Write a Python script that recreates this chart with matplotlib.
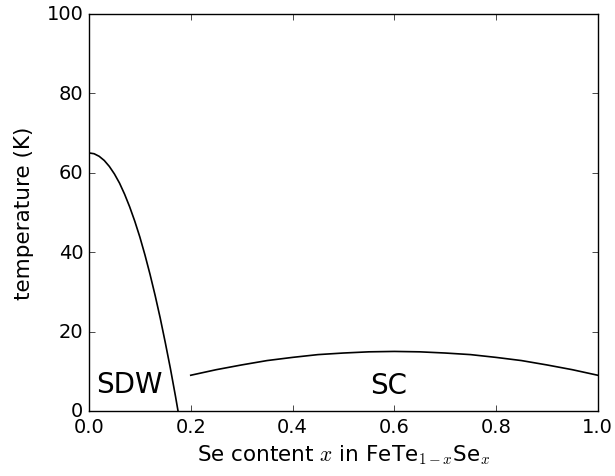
import matplotlib
matplotlib.use("Agg")
import matplotlib.pyplot as plt

# SDW transition line
sdw_x = [0.0, 0.01, 0.02, 0.03, 0.04, 0.05, 0.06, 0.07, 0.08, 0.09,
         0.10, 0.11, 0.12, 0.13, 0.14, 0.15, 0.16, 0.17, 0.175]
sdw_t = [65.0, 64.8, 64.15, 63.1, 61.6, 59.7, 57.4, 54.6, 51.4, 47.8,
         43.8, 39.3, 34.4, 29.1, 23.4, 17.2, 10.7, 3.7, 0.0]

# SC dome
sc_x = [0.2, 0.25, 0.3, 0.35, 0.4, 0.45, 0.5, 0.55, 0.6,
        0.65, 0.7, 0.75, 0.8, 0.85, 0.9, 0.95, 1.0]
sc_t = [9.0, 10.4, 11.6, 12.7, 13.5, 14.2, 14.6, 14.9, 15.0,
        14.9, 14.6, 14.2, 13.5, 12.7, 11.6, 10.4, 9.0]

plt.style.use("classic")
fig = plt.figure(figsize=(6.15, 4.77), dpi=100, facecolor="white")
ax = fig.add_axes([0.1447, 0.1363, 0.8273, 0.8323])
ax.set_facecolor("white")

ax.plot(sdw_x, sdw_t, color="black", lw=1.2)
ax.plot(sc_x, sc_t, color="black", lw=1.2)

ax.text(0.0786, 4.7, "SDW", fontsize=20, ha="center", va="baseline")
ax.text(0.589, 4.6, "SC", fontsize=20, ha="center", va="baseline")

ax.set_xlim(0, 1)
ax.set_ylim(0, 100)
ax.set_xticks([0.0, 0.2, 0.4, 0.6, 0.8, 1.0])
ax.set_yticks([0, 20, 40, 60, 80, 100])
ax.tick_params(labelsize=14)
ax.set_xlabel(r"Se content $x$ in FeTe$_{1-x}$Se$_x$", fontsize=15.5)
ax.set_ylabel("temperature (K)", fontsize=15.5, labelpad=9)

fig.savefig("out.png", dpi=100, facecolor="white")
